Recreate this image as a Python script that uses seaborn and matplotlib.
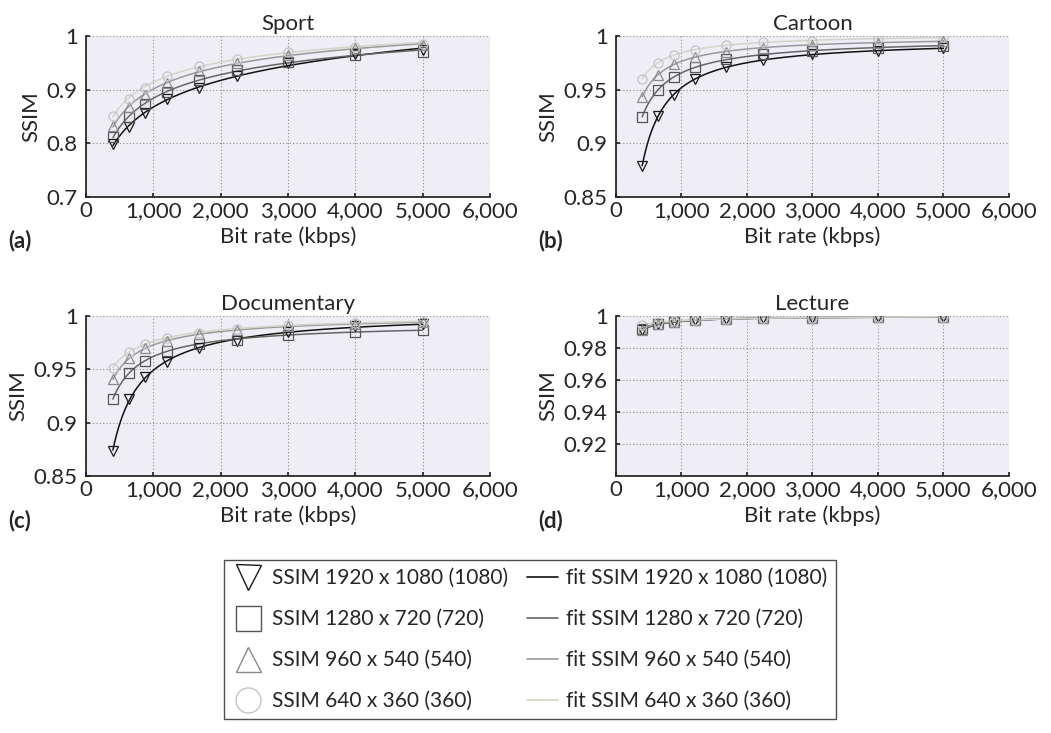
import numpy as np
import matplotlib
matplotlib.use("Agg")
import matplotlib.pyplot as plt
import seaborn as sns
from matplotlib.lines import Line2D

# bit rates (kbps)
bitrate = [400, 640, 880, 1200, 1680, 2240, 3000, 4000, 5000]

# SSIM values, one list per resolution
sport_1080 = [0.798, 0.831, 0.856, 0.882, 0.904, 0.925, 0.949, 0.966, 0.973]
sport_720 = [0.812, 0.849, 0.874, 0.895, 0.918, 0.937, 0.952, 0.965, 0.971]
sport_540 = [0.832, 0.868, 0.890, 0.913, 0.935, 0.950, 0.965, 0.977, 0.983]
sport_360 = [0.851, 0.883, 0.904, 0.925, 0.945, 0.958, 0.970, 0.980, 0.986]

cartoon_1080 = [0.879, 0.9256, 0.945, 0.9595, 0.9707, 0.9776, 0.983, 0.9863, 0.9885]
cartoon_720 = [0.9247, 0.9496, 0.9614, 0.9707, 0.9782, 0.983, 0.9863, 0.989, 0.991]
cartoon_540 = [0.9434, 0.9633, 0.9739, 0.9807, 0.9854, 0.9885, 0.9916, 0.9938, 0.9956]
cartoon_360 = [0.960, 0.975, 0.9823, 0.987, 0.9916, 0.994, 0.9956, 0.9975, 0.9988]

docu_1080 = [0.8737, 0.922, 0.9425, 0.957, 0.9697, 0.977, 0.985, 0.9903, 0.9928]
docu_720 = [0.9219, 0.9469, 0.9581, 0.967, 0.974, 0.9778, 0.9819, 0.985, 0.9872]
docu_540 = [0.9406, 0.9603, 0.9697, 0.9766, 0.9831, 0.9866, 0.9903, 0.9928, 0.994]
docu_360 = [0.9517, 0.9663, 0.9741, 0.9797, 0.9844, 0.9878, 0.9913, 0.9934, 0.9953]

lecture_1080 = [0.9910, 0.9950, 0.9962, 0.9972, 0.9980, 0.9985, 0.9990, 0.9993, 0.9995]
lecture_720 = [0.9920, 0.9952, 0.9964, 0.9973, 0.9980, 0.9985, 0.9990, 0.9993, 0.9995]
lecture_540 = [0.9912, 0.9953, 0.9965, 0.9974, 0.9981, 0.9986, 0.9990, 0.9993, 0.9995]
lecture_360 = [0.9945, 0.9960, 0.9968, 0.9976, 0.9982, 0.9986, 0.9990, 0.9993, 0.9996]

res_labels = ["SSIM 1920 x 1080 (1080)", "SSIM 1280 x 720 (720)",
              "SSIM 960 x 540 (540)", "SSIM 640 x 360 (360)"]
markers = ["v", "s", "^", "o"]
mark_colors = ["#1a1a1a", "#555555", "#8a8a8a", "#c4c4c4"]
fit_colors = ["#111111", "#666666", "#9a9a9a", "#d6d3c8"]

panels = [
    ("Sport", "(a)", [sport_1080, sport_720, sport_540, sport_360], (0.7, 1.0), [0.7, 0.8, 0.9, 1.0], ["0.7", "0.8", "0.9", "1"]),
    ("Cartoon", "(b)", [cartoon_1080, cartoon_720, cartoon_540, cartoon_360], (0.85, 1.0), [0.85, 0.9, 0.95, 1.0], ["0.85", "0.9", "0.95", "1"]),
    ("Documentary", "(c)", [docu_1080, docu_720, docu_540, docu_360], (0.85, 1.0), [0.85, 0.9, 0.95, 1.0], ["0.85", "0.9", "0.95", "1"]),
    ("Lecture", "(d)", [lecture_1080, lecture_720, lecture_540, lecture_360], (0.9, 1.0), [0.92, 0.94, 0.96, 0.98, 1.0], ["0.92", "0.94", "0.96", "0.98", "1"]),
]


def power_fit(x, y):
    # least squares fit of y = a * x**b + c, searching over the exponent b
    best = None
    for b in np.linspace(-2.0, 0.6, 261):
        t = np.log(x) if abs(b) < 1e-9 else x ** b
        A = np.column_stack([t, np.ones_like(t)])
        coef, res, _, _ = np.linalg.lstsq(A, y, rcond=None)
        err = np.sum((A @ coef - y) ** 2)
        if best is None or err < best[0]:
            best = (err, b, coef)
    return best[1], best[2]


def power_eval(b, coef, x):
    t = np.log(x) if abs(b) < 1e-9 else x ** b
    return coef[0] * t + coef[1]


sns.set_theme(style="ticks")
plt.rcParams["font.family"] = ["Lato", "DejaVu Sans"]
FS = 16

fig = plt.figure(figsize=(10.51, 7.33), dpi=100)
boxes = [
    [0.0818, 0.7312, 0.3844, 0.2197],
    [0.5861, 0.7312, 0.3739, 0.2197],
    [0.0818, 0.3506, 0.3844, 0.2183],
    [0.5861, 0.3506, 0.3739, 0.2183],
]
label_pos = [(0.008, 0.672), (0.512, 0.672), (0.008, 0.290), (0.512, 0.290)]

x = np.array(bitrate, dtype=float)
xs = np.linspace(x.min(), x.max(), 200)

for (title, tag, series, ylim, yt, ytl), box, lp in zip(panels, boxes, label_pos):
    ax = fig.add_axes(box)
    ax.set_facecolor("#efedf5")
    for i, y in enumerate(series):
        b, coef = power_fit(x, np.array(y))
        sns.lineplot(x=xs, y=power_eval(b, coef, xs), ax=ax,
                     color=fit_colors[i], linewidth=1.1, zorder=2)
        sns.lineplot(x=x, y=y, ax=ax, linestyle="none", marker=markers[i],
                     markersize=6.5, markerfacecolor="none",
                     markeredgecolor=mark_colors[i], markeredgewidth=0.9,
                     color=mark_colors[i], zorder=3)
    ax.set_xlim(0, 6000)
    ax.set_ylim(*ylim)
    ax.set_xticks([0, 1000, 2000, 3000, 4000, 5000, 6000])
    ax.set_xticklabels(["0", "1,000", "2,000", "3,000", "4,000", "5,000", "6,000"])
    ax.set_yticks(yt)
    ax.set_yticklabels(ytl)
    ax.grid(True, linestyle=(0, (1, 2)), color="#8c8c8c", linewidth=0.8)
    for s in ["top", "right"]:
        ax.spines[s].set_visible(False)
    ax.spines["left"].set_color("#222222")
    ax.spines["bottom"].set_color("#222222")
    ax.tick_params(direction="in", length=3, labelsize=FS)
    ax.tick_params(axis="y", pad=6)
    ax.tick_params(axis="x", pad=3)
    ax.set_title(title, fontsize=FS, pad=4)
    ax.set_xlabel("Bit rate (kbps)", fontsize=FS, labelpad=4)
    ax.set_ylabel("SSIM", fontsize=FS, labelpad=4)
    fig.text(lp[0], lp[1], tag, fontsize=FS, fontweight="bold", va="center")

handles = []
for i in range(4):
    handles.append(Line2D([], [], linestyle="none", marker=markers[i], markersize=18,
                          markerfacecolor="none", markeredgecolor=mark_colors[i],
                          markeredgewidth=1.0))
for i in range(4):
    handles.append(Line2D([], [], color=fit_colors[i], linewidth=1.2))
labels = res_labels + ["fit " + l for l in res_labels]

leg = fig.legend(handles, labels, ncol=2, loc="upper center",
                 bbox_to_anchor=(0.504, 0.236), fontsize=15, frameon=True,
                 fancybox=False, edgecolor="#222222", handlelength=1.5,
                 handletextpad=0.4, columnspacing=0.9, labelspacing=1.0,
                 borderpad=0.4, borderaxespad=0)
leg.get_frame().set_linewidth(1.0)

fig.savefig("out.png", dpi=100)
